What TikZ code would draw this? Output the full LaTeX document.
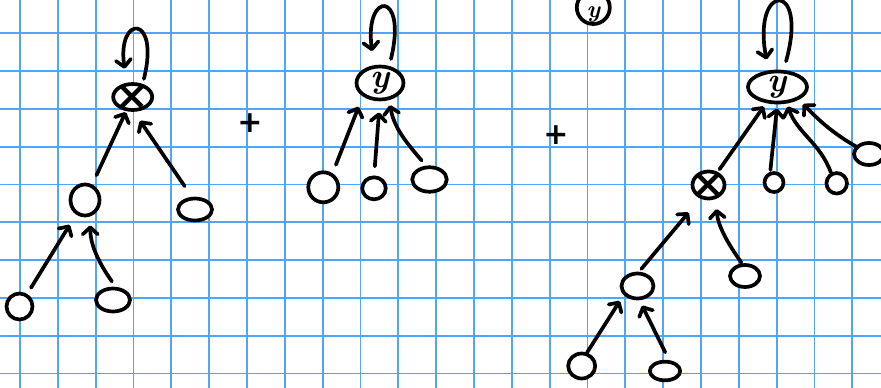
\documentclass[tikz,border=0pt]{standalone}
\usepackage{fontspec}
\newfontfamily\plusfont{DejaVu Sans}
\usetikzlibrary{arrows.meta,shapes.geometric}
\definecolor{gridblue}{RGB}{80,165,252}
\begin{document}
\begin{tikzpicture}[x=1pt,y=1pt,
  gridline/.style={draw=gridblue, line width=1.8pt},
  ink/.style={line width=3.7pt, line cap=round, line join=round, black},
  nd/.style={ink, draw, fill=white, ellipse, inner sep=0pt, outer sep=0pt},
  arr/.style={ink, -{Straight Barb[length=7pt,width=15pt,round]}},
  xsym/.style={inner sep=0pt, font=\plusfont\bfseries\fontsize{40}{40}\selectfont},
  ysym/.style={inner sep=0pt, font=\bfseries\itshape\fontsize{34}{34}\selectfont},
  ysmall/.style={inner sep=0pt, font=\bfseries\itshape\fontsize{24}{24}\selectfont},
  plussym/.style={inner sep=0pt, font=\plusfont\bfseries\fontsize{30}{30}\selectfont}
]
\useasboundingbox (0,0) rectangle (881,-388);
\clip (0,0) rectangle (881,-388);
\fill[white] (0,0) rectangle (881,-388);
% grid
\foreach \i in {0,...,23} \draw[gridline] (20+37.83*\i,0) -- (20+37.83*\i,-388);
\foreach \j in {0,...,9} \draw[gridline] (0,-33.3-37.8*\j) -- (881,-33.3-37.8*\j);

% ---------- panel 1 ----------
\node[nd, minimum width=39pt, minimum height=26pt] (x1) at (132.7,-97) {};
\node[xsym] (x1t) at (x1.center) {×};
\node[nd, minimum width=29pt, minimum height=31pt] (a1) at (85,-200) {};
\node[nd, minimum width=34pt, minimum height=22pt] (b1) at (195,-209.5) {};
\node[nd, minimum width=26pt, minimum height=26pt] (c1) at (19.5,-306.5) {};
\node[nd, minimum width=34pt, minimum height=23pt] (d1) at (113,-300) {};
\node[plussym] (p1) at (250,-123) {+};

\draw[arr, shorten <=7pt, shorten >=16pt] (x1.50) .. controls +(18,72) and +(-10,70) .. (x1.115);
\draw[arr, shorten <=12pt, shorten >=3pt] (a1) -- (x1);
\draw[arr, shorten <=15pt, shorten >=13pt] (b1.100) -- (x1.south);
\draw[arr, shorten <=9pt, shorten >=14pt] (c1) -- (a1);
\draw[arr, shorten <=9pt, shorten >=11pt] (d1.70) to[out=125,in=-90] (a1.-70);

% ---------- panel 2 ----------
\node[nd, minimum width=47pt, minimum height=33pt] (y2) at (380,-83) {};
\node[ysym] (y2t) at (y2.center) {y};
\node[nd, minimum width=30pt, minimum height=30pt] (e2) at (323.3,-187.3) {};
\node[nd, minimum width=23.5pt, minimum height=22pt] (f2) at (374,-188.3) {};
\node[nd, minimum width=34.5pt, minimum height=24.5pt] (g2) at (429.5,-179.5) {};
\node[plussym] (p2) at (556,-135) {+};

\draw[arr, shorten <=9pt, shorten >=16pt] (y2.60) .. controls +(19,78) and +(-10,76) .. (y2.110);
\draw[arr, shorten <=11pt, shorten >=13pt] (e2.55) -- (y2.215);
\draw[arr, shorten <=11pt, shorten >=13pt] (f2.north) -- (y2.south);
\draw[arr, shorten <=9pt, shorten >=7pt] (g2.100) to[out=130,in=-80] (y2.-60);

% stray node at the top edge
\node[nd, minimum width=33pt, minimum height=33pt] (ytop) at (593.3,-7.5) {};
\node[ysmall] (ytopt) at (593.3,-14) {y};

% ---------- panel 3 ----------
\node[nd, minimum width=59pt, minimum height=31pt] (y3) at (777.5,-87) {};
\node[ysym] (y3t) at (y3.center) {y};
\node[nd, minimum width=32pt, minimum height=27pt] (x3) at (708.5,-185) {};
\node[xsym] (x3t) at (x3.center) {×};
\node[nd, minimum width=19pt, minimum height=19pt] (h3) at (774,-182.5) {};
\node[nd, minimum width=20.5pt, minimum height=20.5pt] (i3) at (836.7,-183.3) {};
\node[nd, minimum width=30pt, minimum height=22pt] (j3) at (869,-154) {};
\node[nd, minimum width=32pt, minimum height=25pt] (k3) at (637.5,-286) {};
\node[nd, minimum width=30pt, minimum height=22pt] (l3) at (745,-276) {};
\node[nd, minimum width=27pt, minimum height=25pt] (m3) at (581.7,-366) {};
\node[nd, minimum width=30.4pt, minimum height=18.7pt] (n3) at (665,-371) {};

\draw[arr, shorten <=11pt, shorten >=13pt] (y3.70) .. controls +(26,92) and +(-17,90) .. (y3.120);
\draw[arr, shorten <=5pt, shorten >=6pt] (x3) -- (y3);
\draw[arr, shorten <=4pt, shorten >=6pt] (h3.115) -- (y3.south);
\draw[arr, shorten <=2pt, shorten >=5pt] (i3.120) to[out=110,in=-70] (y3.-60);
\draw[arr, shorten <=1pt, shorten >=8pt] (j3.150) to[out=150,in=-45] (y3.-30);
\draw[arr, shorten <=6pt, shorten >=20pt] (k3.north) -- (x3.240);
\draw[arr, shorten <=3pt, shorten >=12pt] (l3.100) to[out=125,in=-85] (x3.-60);
\draw[arr, shorten <=2pt, shorten >=9pt] (m3.70) -- (k3.210);
\draw[arr, shorten <=11pt, shorten >=8pt] (n3.60) -- (k3.-85);
\end{tikzpicture}
\end{document}
